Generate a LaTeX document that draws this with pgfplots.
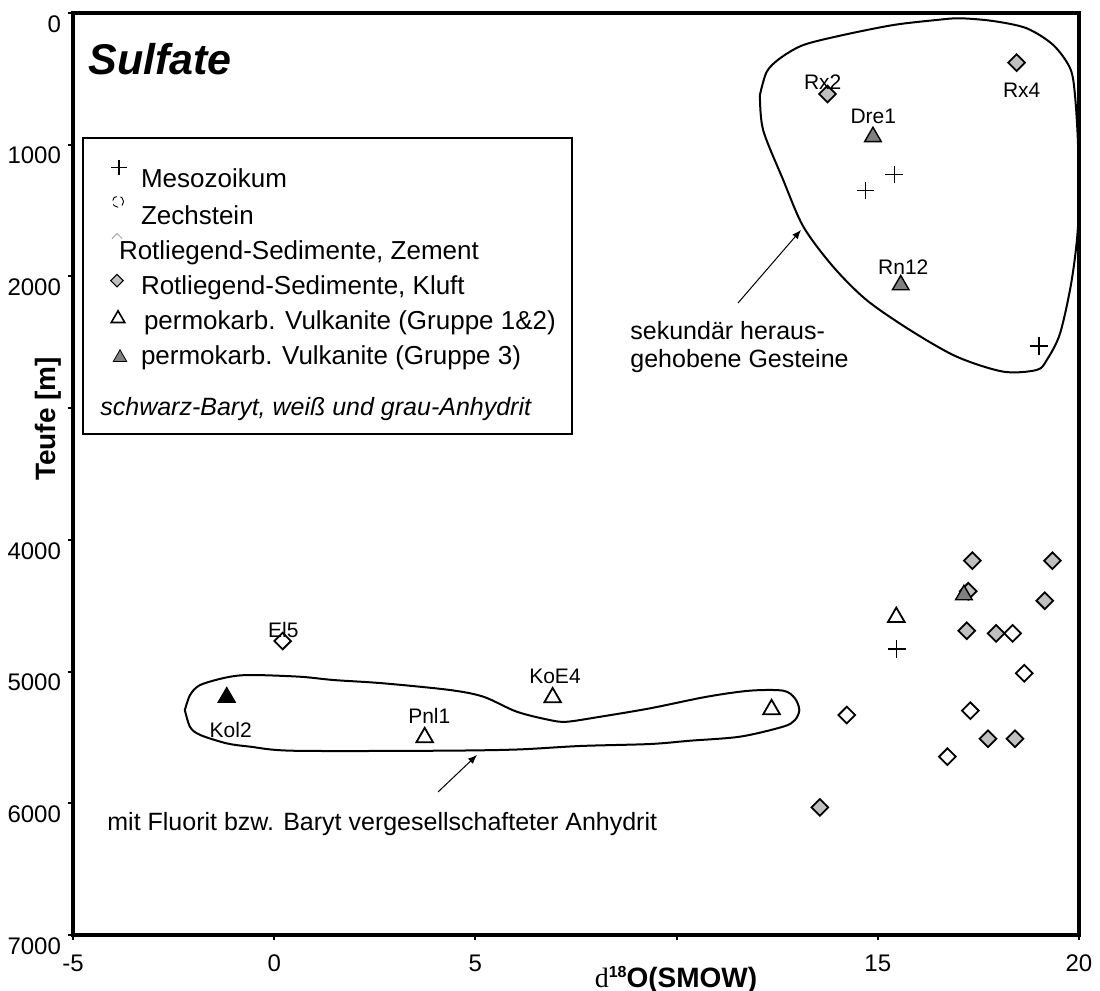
\documentclass[border=0pt]{standalone}
\usepackage{fontspec}
\setmainfont{Liberation Sans}
\newfontfamily\seriffont{Liberation Serif}
\usepackage{pgfplots}
\pgfplotsset{compat=1.18}
\usetikzlibrary{arrows.meta}

\definecolor{kluft}{HTML}{C0C0C0}
\definecolor{grpthree}{HTML}{808080}

% isotope data: d18O (SMOW) against depth (m)
\pgfplotstableread{
x y
15.41 1225
14.69 1349
19.01 2528
15.47 4828
}\mesozoikum
\pgfplotstableread{
x y
0.21 4768
18.35 4710
18.64 5013
14.23 5330
17.30 5297
16.73 5646
}\zement
\pgfplotstableread{
x y
13.75 615
18.45 377
17.35 4158
19.34 4158
17.25 4390
19.15 4462
17.21 4690
17.94 4710
17.74 5510
18.41 5510
13.56 6031
}\kluft
\pgfplotstableread{
x y
3.74 5500
6.92 5197
12.36 5287
15.46 4587
}\vulkA
\pgfplotstableread{
x y
14.88 940
15.57 2065
17.14 4418
}\vulkB
\pgfplotstableread{
x y
-1.18 5195
}\baryt

% empty frame that fixes the size of every legend symbol cell
\newcommand\legcell{\path[draw=none, fill=none] (0pt,-4pt) rectangle (10pt,13.5pt);}

\begin{document}
\begin{tikzpicture}
\path[use as bounding box] (0,0) rectangle (550pt,495.5pt);
\begin{axis}[
  at={(36.5pt,28pt)}, anchor=south west,
  scale only axis, width=503pt, height=461pt,
  xmin=-5, xmax=20, ymin=0, ymax=7000, y dir=reverse,
  axis line style={line width=1.6pt},
  xtick={-5,0,5,10,15,20}, xticklabels={-5,0,5,,15,20},
  ytick={0,1000,2000,3000,4000,5000,6000,7000},
  yticklabels={0,1000,2000,,4000,5000,6000,7000},
  tick align=outside, xtick pos=bottom, ytick pos=left,
  major tick length=2.5pt,
  tick style={line width=1pt, black},
  ticklabel style={font=\fontsize{12}{14}\selectfont},
  yticklabel style={yshift=-5.5pt},
  xticklabel style={yshift=-4pt},
  xlabel={{\seriffont\mdseries d}{\fontsize{8}{9}\selectfont\raisebox{5pt}{18}}O(SMOW)},
  xlabel style={at={(axis description cs:0.5994,-0.0564)}, anchor=base,
    inner sep=0pt, font=\bfseries\fontsize{14}{16}\selectfont},
  ylabel={Teufe [m]},
  ylabel style={at={(axis description cs:-0.0249,0.5597)}, anchor=center,
    inner sep=0pt, font=\bfseries\fontsize{14}{16}\selectfont},
  clip=false,
  legend style={
    at={(axis description cs:0.0348,0.8406)}, anchor=north west,
    draw=none, fill=none, inner sep=0pt, outer sep=0pt,
    font=\fontsize{13}{15}\selectfont,
    cells={anchor=base west, inner sep=0pt, outer sep=0pt},
    row sep=0pt, column sep=4.5pt,
  },
]
% legend symbols
\addlegendimage{legend image code/.code={\legcell
  \draw[black, line width=0.6pt] plot[only marks, mark=+, mark size=3.8pt]
    coordinates {(5.5pt,10pt)};}}
\addlegendentry{Mesozoikum}
\addlegendimage{legend image code/.code={\legcell
  \draw[black, line width=0.45pt, densely dashed, fill=none] (5pt,11.5pt) circle (2.8pt);}}
\addlegendentry{Zechstein}
\addlegendimage{legend image code/.code={\legcell
  \draw[black!35, line width=0.45pt, fill=none] (2pt,10.5pt) -- (4.5pt,13pt) -- (7pt,10.5pt);}}
\addlegendentry{\hspace*{-11pt}Rotliegend-Sedimente, Zement}
\addlegendimage{legend image code/.code={\legcell
  \draw plot[only marks, mark=square*, mark size=2.2pt,
    mark options={rotate=45, fill=kluft, draw=black, line width=0.5pt}]
    coordinates {(4.5pt,7pt)};}}
\addlegendentry{Rotliegend-Sedimente, Kluft}
\addlegendimage{legend image code/.code={\legcell
  \draw plot[only marks, mark=triangle*, mark size=3.9pt,
    mark options={fill=white, draw=black, line width=0.8pt}]
    coordinates {(5pt,5.5pt)};}}
\addlegendentry{\hspace*{1.5pt}permokarb. Vulkanite (Gruppe 1\&2)}
\addlegendimage{legend image code/.code={\legcell
  \draw plot[only marks, mark=triangle*, mark size=3.9pt,
    mark options={fill=grpthree, draw=black, line width=0.4pt}]
    coordinates {(6pt,3.5pt)};}}
\addlegendentry{permokarb. Vulkanite (Gruppe 3)}

% outlined groups
\addplot[forget plot, black, line width=1pt, smooth, tension=0.5] coordinates {
(12.07,623) (12.24,446) (12.57,344) (13.15,243) (14.14,167) (15.39,91)
(16.46,53) (17.04,40) (17.87,61) (18.70,116) (19.36,243) (19.78,420)
(19.90,623) (19.98,1040) (19.98,1594) (19.82,2027) (19.53,2432) (19.20,2634)
(18.95,2710) (18.12,2723) (16.96,2609) (15.80,2407) (14.72,2179) (13.89,1926)
(13.15,1622) (12.65,1268) (12.15,888) (12.07,623)};
\addplot[forget plot, black, line width=1pt, smooth, tension=0.5] coordinates {
(-2.22,5292) (-2.09,5178) (-1.84,5102) (-1.18,5044) (-0.60,5026) (0.64,5039)
(1.47,5064) (2.71,5089) (4.37,5140) (5.20,5191) (6.03,5305) (6.85,5368)
(7.27,5381) (8.10,5343) (9.34,5279) (10.75,5191) (11.82,5145) (12.65,5145)
(12.94,5203) (13.05,5292) (12.94,5368) (12.65,5418) (11.58,5494) (10.33,5525)
(9.34,5550) (7.6,5565) (6.0,5592) (4.0,5601) (0.47,5601) (-0.60,5570)
(-1.18,5545) (-1.84,5481) (-2.09,5421) (-2.22,5292)};

% data series
\addplot[forget plot, only marks, mark=+, mark size=4.4pt, black, line width=0.7pt]
  table[x=x, y=y] {\mesozoikum};
\addplot[forget plot, only marks, mark=square*, mark size=2.95pt,
  mark options={rotate=45, fill=white, draw=black, line width=0.9pt}]
  table[x=x, y=y] {\zement};
\addplot[forget plot, only marks, mark=square*, mark size=2.95pt,
  mark options={rotate=45, fill=kluft, draw=black, line width=0.9pt}]
  table[x=x, y=y] {\kluft};
\addplot[forget plot, only marks, mark=triangle*, mark size=4.8pt,
  mark options={fill=white, draw=black, line width=0.9pt}]
  table[x=x, y=y] {\vulkA};
\addplot[forget plot, only marks, mark=triangle*, mark size=4.8pt,
  mark options={fill=grpthree, draw=black, line width=0.7pt}]
  table[x=x, y=y] {\vulkB};
\addplot[forget plot, only marks, mark=triangle*, mark size=4.8pt,
  mark options={fill=black, draw=black, line width=0.7pt}]
  table[x=x, y=y] {\baryt};
\end{axis}

% annotations, in pixel units measured from the top left corner
\begin{scope}[shift={(0pt,495.5pt)}, x=0.5pt, y=-0.5pt]
  \node[anchor=base west, inner sep=0pt,
    font=\bfseries\itshape\fontsize{21.5}{25}\selectfont] at (88,75) {Sulfate};
  \draw[line width=0.7pt] (83,138) rectangle (572,434);
  \node[anchor=base west, inner sep=0pt, font=\itshape\fontsize{12.5}{15}\selectfont]
    at (100,416) {schwarz-Baryt, weiß und grau-Anhydrit};
  \begin{scope}[every node/.style={inner sep=0pt, font=\fontsize{10.5}{12}\selectfont}]
    \node at (822.7,81.7) {Rx2};
    \node at (1021.7,90) {Rx4};
    \node at (873.3,116.7) {Dre1};
    \node at (903.3,266.7) {Rn12};
    \node at (283.3,630) {El5};
    \node at (230.7,730) {Kol2};
    \node at (429.3,716) {Pnl1};
    \node at (555,676) {KoE4};
  \end{scope}
  \begin{scope}[every node/.style={anchor=base west, inner sep=0pt,
      font=\fontsize{12.5}{15}\selectfont}]
    \node at (630,340) {sekundär heraus-};
    \node at (630,368) {gehobene Gesteine};
    \node at (107,831) {mit Fluorit bzw. Baryt vergesellschafteter Anhydrit};
  \end{scope}
  \draw[line width=0.5pt, -{Latex[length=4.5pt,width=3.6pt]}] (738,303) -- (801,230);
  \draw[line width=0.5pt, -{Latex[length=4.5pt,width=3.6pt]}] (438,792) -- (477,755);
\end{scope}
\end{tikzpicture}
\end{document}
